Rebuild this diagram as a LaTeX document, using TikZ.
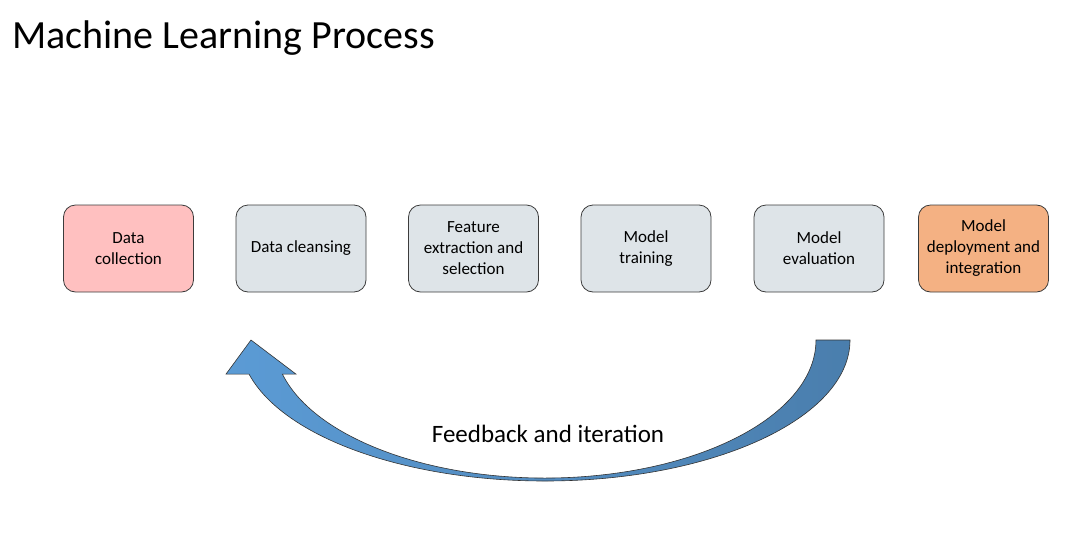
\documentclass[tikz,border=0pt]{standalone}
\usepackage{fontspec}
\setmainfont{Carlito}
\definecolor{pinkfill}{HTML}{FFC0C0}
\definecolor{grayfill}{HTML}{DEE4E8}
\definecolor{orangefill}{HTML}{F4B183}
\definecolor{boxline}{HTML}{3C3C3C}
\definecolor{loopleft}{HTML}{5B9BD5}
\definecolor{loopright}{HTML}{4A7EAD}
\begin{document}
\begin{tikzpicture}[x=1pt, y=-1pt,
    stepbox/.style={draw=boxline, line width=0.8pt, rounded corners=12pt, minimum width=130pt, minimum height=87pt, align=center, font=\fontsize{17}{21}\selectfont}]
    \useasboundingbox (0,0) rectangle (1075,533);
    \node[anchor=base west, inner sep=0pt, font=\fontsize{40}{48}\selectfont] (title) at (12,48) {Machine Learning Process};

    \node[stepbox, fill=pinkfill] (collect) at (128.5,248.5) {Data\\collection};
    \node[stepbox, fill=grayfill] (cleanse) at (301,248.5) {Data cleansing};
    \node[stepbox, fill=grayfill] (feature) at (473.5,248.5) {Feature\\extraction and\\selection};
    \node[stepbox, fill=grayfill] (train) at (646,248.5) {Model\\training};
    \node[stepbox, fill=grayfill] (evaluate) at (819,248.5) {Model\\evaluation};
    \node[stepbox, fill=orangefill] (deploy) at (983.5,248.5) {Model\\deployment and\\integration};

    \coordinate (tail) at (850,340);
    \coordinate (tip) at (251,340);
    \draw[draw=black!80, line width=0.6pt, left color=loopleft, right color=loopright]
        (tail) arc[start angle=0, end angle=166, x radius=305, y radius=141]
        -- (226,374.1) -- (tip) -- (296,374.1) -- (282.4,374.1)
        arc[start angle=165.7, end angle=0, x radius=271, y radius=138] -- cycle;
    \node[anchor=base, inner sep=0pt, font=\fontsize{25}{30}\selectfont] (loop) at (548,442) {Feedback and iteration};
\end{tikzpicture}
\end{document}
